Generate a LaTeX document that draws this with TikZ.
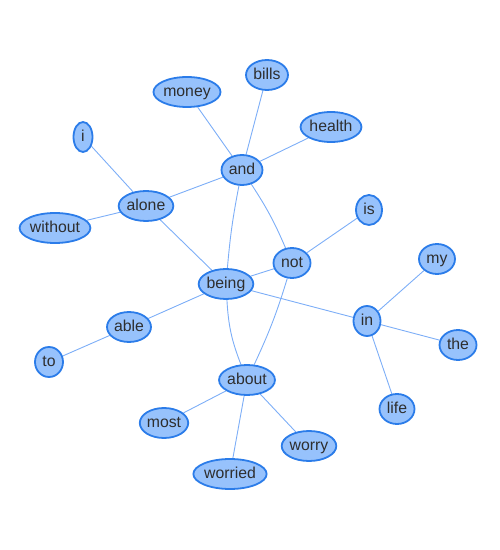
\documentclass[tikz,border=0pt]{standalone}
\usepackage{fontspec}
\setmainfont{Liberation Sans}
\usetikzlibrary{shapes.geometric,backgrounds}
\definecolor{nodefill}{HTML}{97C2FC}
\definecolor{nodeborder}{HTML}{2B7CE9}
\definecolor{edgecol}{HTML}{7DAEF7}
\definecolor{txt}{HTML}{2E2E2E}
\tikzset{
  word/.style={ellipse, draw=nodeborder, fill=nodefill, line width=1.8pt,
    inner sep=0pt, minimum height=30pt, text=txt, text height=11.4pt, text depth=3pt,
    font=\fontsize{15.8pt}{17pt}\selectfont},
  link/.style={draw=edgecol, line width=0.9pt}
}
\begin{document}
\begin{tikzpicture}[x=1pt,y=1pt]
\useasboundingbox (0,0) rectangle (500,550);
\node[word, minimum width=62pt] (money) at (187,458) {money};
\node[word, minimum width=42pt] (bills) at (267,475) {bills};
\node[word, minimum width=57pt] (health) at (331,423) {health};
\node[word, minimum width=19pt] (i) at (83,413) {i};
\node[word, minimum width=41pt] (and) at (242,380) {and};
\node[word, minimum width=26pt] (is) at (369,340) {is};
\node[word, minimum width=52pt] (alone) at (146,344) {alone};
\node[word, minimum width=64pt] (without) at (55,322) {without};
\node[word, minimum width=37pt] (not) at (292,287) {not};
\node[word, minimum width=36pt] (my) at (437,291) {my};
\node[word, minimum width=50pt] (being) at (226,266) {being};
\node[word, minimum width=44pt] (able) at (129,223) {able};
\node[word, minimum width=27pt] (in) at (367,229) {in};
\node[word, minimum width=37pt] (the) at (458,205) {the};
\node[word, minimum width=28pt] (to) at (49,188) {to};
\node[word, minimum width=54pt] (about) at (247,170) {about};
\node[word, minimum width=48pt] (most) at (164,127) {most};
\node[word, minimum width=53pt] (worry) at (309,104) {worry};
\node[word, minimum width=35pt] (life) at (397,141) {life};
\node[word, minimum width=66pt] (worried) at (230,76) {worried};
\begin{pgfonlayer}{background}
\draw[link] (and) -- (money);
\draw[link] (and) -- (bills);
\draw[link] (and) -- (health);
\draw[link] (and) -- (alone);
\draw[link] (and) to[bend right=3] (being);
\draw[link] (and) to[bend left=5] (not);
\draw[link] (alone) -- (i);
\draw[link] (alone) -- (without);
\draw[link] (alone) -- (being);
\draw[link] (being) -- (not);
\draw[link] (not) -- (is);
\draw[link] (not) to[bend left=4] (about);
\draw[link] (being) to[bend right=9] (about);
\draw[link] (being) -- (able);
\draw[link] (able) -- (to);
\draw[link] (being) -- (in);
\draw[link] (in) -- (my);
\draw[link] (in) -- (the);
\draw[link] (in) -- (life);
\draw[link] (about) -- (most);
\draw[link] (about) -- (worried);
\draw[link] (about) -- (worry);
\end{pgfonlayer}
\end{tikzpicture}
\end{document}
